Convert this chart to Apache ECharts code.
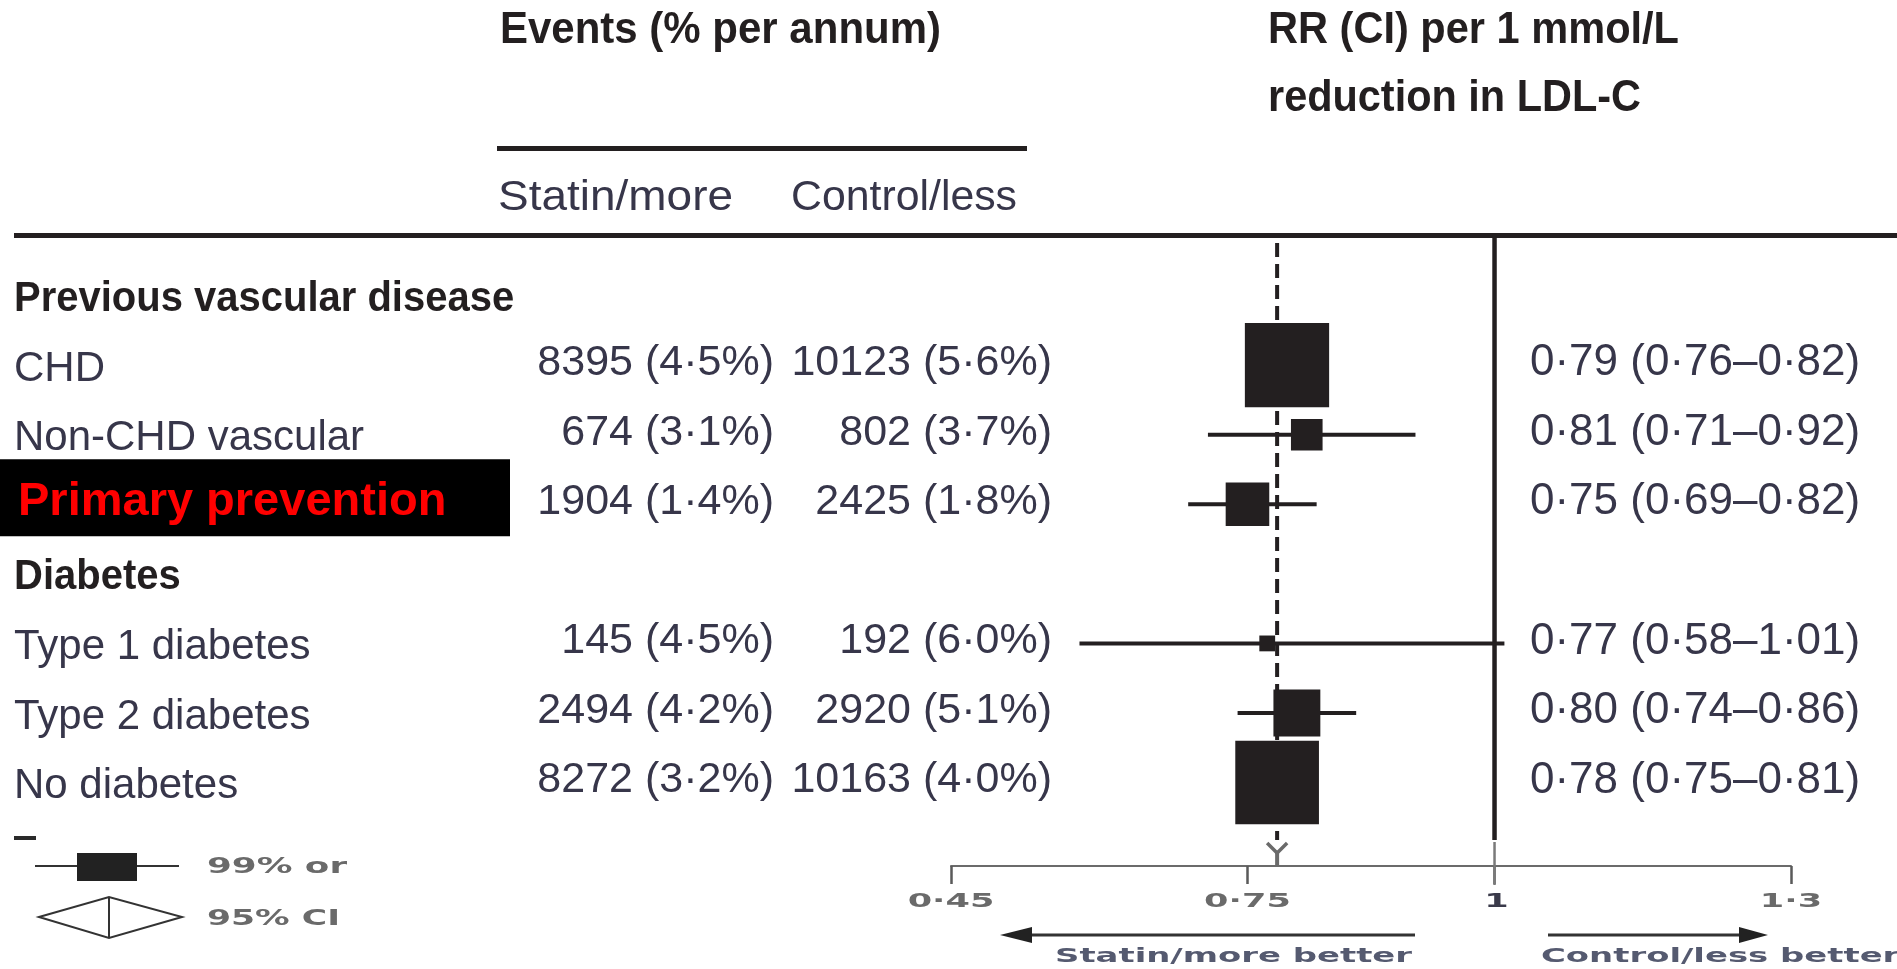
<!DOCTYPE html>
<html><head><meta charset="utf-8">
<script src="https://cdn.jsdelivr.net/npm/echarts@6/dist/echarts.min.js"></script>
<style>html,body{margin:0;padding:0;background:#fff;}#chart{width:1897px;height:969px;}</style>
</head><body><div id="chart"></div>
<script>
// ---------------- DATA ----------------
const rowLabels = ['Previous vascular disease', 'CHD', 'Non-CHD vascular', 'Primary prevention',
                   'Diabetes', 'Type 1 diabetes', 'Type 2 diabetes', 'No diabetes'];
const headingRows = [0, 4];
const highlightRow = 3;
const dataRows = [1, 2, 3, 5, 6, 7];
const statinEvents = [8395, 674, 1904, 145, 2494, 8272];
const statinPct = [4.5, 3.1, 1.4, 4.5, 4.2, 3.2];
const controlEvents = [10123, 802, 2425, 192, 2920, 10163];
const controlPct = [5.6, 3.7, 1.8, 6.0, 5.1, 4.0];
const rrEst = [0.79, 0.81, 0.75, 0.77, 0.80, 0.78];
const rrLow = [0.76, 0.71, 0.69, 0.58, 0.74, 0.75];
const rrHigh = [0.82, 0.92, 0.82, 1.01, 0.86, 0.81];
const boxWeight = [71, 10, 19, 2.5, 22, 70];   // relative statistical weight (box area)
const overallRR = 0.78;
const nullRR = 1;
const axisTicks = [0.45, 0.75, 1, 1.3];
const axisTickLabels = ['0·45', '0·75', '1', '1·3'];

// ---------------- STYLE ----------------
const SANS = "'Liberation Sans', Arial, sans-serif";
const WIDE = "'DejaVu Sans', sans-serif";
const INK = '#231f20';
const BODY = '#37364a';
const TXT_DY = 3;

const mctx = document.createElement('canvas').getContext('2d');
function textWidth(text, size, weight, family) {
  mctx.font = weight + ' ' + size + 'px ' + family;
  return mctx.measureText(text).width;
}
function fitText(text, x, y, size, weight, family, targetW, fill, scale) {
  const s = scale || targetW / textWidth(text, size, weight, family);
  return { type: 'text', x: x, y: y, scaleX: s, silent: true, z: 10,
    style: { text: text, fontSize: size, fontWeight: weight, fontFamily: family, fill: fill,
             align: 'left', verticalAlign: 'middle' } };
}
const fmt1 = v => v.toFixed(1).replace('.', '·');
const fmt2 = v => v.toFixed(2).replace('.', '·');

const arrowScale = 357 / textWidth('Statin/more better', 20, 'bold', WIDE);

const graphics = [
  fitText('Events (% per annum)', 500, 31, 44, 'bold', SANS, 441, INK),
  fitText('RR (CI) per 1 mmol/L', 1268, 31, 44, 'bold', SANS, 411, INK),
  fitText('reduction in LDL-C', 1268, 99, 44, 'bold', SANS, 373, INK),
  { type: 'rect', shape: { x: 497, y: 146, width: 530, height: 5 }, style: { fill: INK }, silent: true },
  fitText('Statin/more', 498, 198, 43, 'normal', SANS, 235, BODY),
  fitText('Control/less', 791, 198, 43, 'normal', SANS, 226, BODY),
  { type: 'rect', shape: { x: 14, y: 233, width: 1883, height: 5 }, style: { fill: INK }, silent: true },
  // cut-off glyph fragment above legend
  { type: 'rect', shape: { x: 14, y: 836, width: 22, height: 4 }, style: { fill: '#2a2a2a' }, silent: true },
  // legend
  { type: 'line', shape: { x1: 35, y1: 866, x2: 179, y2: 866 }, style: { stroke: '#333', lineWidth: 2 }, silent: true },
  { type: 'rect', shape: { x: 77, y: 853, width: 60, height: 28 }, style: { fill: '#222' }, silent: true },
  fitText('99% or', 207, 867, 22, 'bold', WIDE, 140, '#6a6a6a'),
  { type: 'polygon', shape: { points: [[39, 917], [109, 897], [182, 917], [109, 938]] },
    style: { stroke: '#333', lineWidth: 2, fill: '#fff' }, silent: true },
  { type: 'line', shape: { x1: 109, y1: 897, x2: 109, y2: 938 }, style: { stroke: '#333', lineWidth: 2 }, silent: true },
  fitText('95% CI', 207, 919, 22, 'bold', WIDE, 133, '#6a6a6a'),
  // direction arrows
  { type: 'line', shape: { x1: 1020, y1: 935, x2: 1415, y2: 935 }, style: { stroke: '#333', lineWidth: 3 }, silent: true },
  { type: 'polygon', shape: { points: [[1000, 935], [1032, 927], [1032, 943]] }, style: { fill: '#222' }, silent: true },
  { type: 'line', shape: { x1: 1548, y1: 935, x2: 1748, y2: 935 }, style: { stroke: '#333', lineWidth: 3 }, silent: true },
  { type: 'polygon', shape: { points: [[1768, 935], [1739, 927], [1739, 943]] }, style: { fill: '#222' }, silent: true },
  fitText('Statin/more better', 1055, 957, 20, 'bold', WIDE, 0, '#555a70', arrowScale),
  fitText('Control/less better', 1541, 957, 20, 'bold', WIDE, 0, '#555a70', arrowScale)
];

function rowY(api, row) { return api.coord([0.45, row])[1]; }

const option = {
  animation: false,
  backgroundColor: '#fff',
  grid: { left: 951, right: 106, top: 240, bottom: 103, containLabel: false },
  xAxis: {
    type: 'value', min: 0.45, max: 1.3, position: 'bottom',
    axisLine: { show: true, onZero: false, lineStyle: { color: '#6b6b6b', width: 2 } },
    axisTick: { show: true, customValues: axisTicks, length: 18, lineStyle: { color: '#5a5a5a', width: 2.5 } },
    axisLabel: { show: false },
    splitLine: { show: false }
  },
  yAxis: { type: 'value', inverse: true, min: -0.8, max: 8.2, show: false },
  graphic: graphics,
  series: [
    { // line of no effect
      type: 'custom', z: 2, silent: true, encode: { x: 0 },
      data: [[nullRR]],
      renderItem: function (params, api) {
        const cs = params.coordSys;
        const x = api.coord([api.value(0), 0])[0];
        const bottom = cs.y + cs.height;
        return { type: 'group', children: [
          { type: 'line', shape: { x1: x, y1: cs.y - 3, x2: x, y2: bottom - 26 }, style: { stroke: INK, lineWidth: 4.5 } },
          { type: 'line', shape: { x1: x, y1: bottom - 24, x2: x, y2: bottom + 19 }, style: { stroke: '#7a7a7a', lineWidth: 2.5 } }
        ]};
      }
    },
    { // overall effect (dashed)
      type: 'custom', z: 2, silent: true, encode: { x: 0 },
      data: [[overallRR]],
      renderItem: function (params, api) {
        const cs = params.coordSys;
        const x = api.coord([api.value(0), 0])[0];
        const bottom = cs.y + cs.height;
        return { type: 'group', children: [
          { type: 'line', shape: { x1: x, y1: cs.y + 3, x2: x, y2: bottom - 26 },
            style: { stroke: INK, lineWidth: 4, lineDash: [14, 7] } },
          { type: 'polyline', shape: { points: [[x - 10, bottom - 23], [x, bottom - 13], [x + 10, bottom - 23]] },
            style: { stroke: '#6a6a6a', lineWidth: 3.5, fill: null } },
          { type: 'line', shape: { x1: x, y1: bottom - 13, x2: x, y2: bottom }, style: { stroke: '#6a6a6a', lineWidth: 4 } }
        ]};
      }
    },
    { // forest markers
      type: 'custom', z: 3, silent: true, encode: { x: 0, y: 1 },
      data: dataRows.map((r, i) => [rrEst[i], r, rrLow[i], rrHigh[i], boxWeight[i]]),
      renderItem: function (params, api) {
        const c = api.coord([api.value(0), api.value(1)]);
        const lo = api.coord([api.value(2), api.value(1)]);
        const hi = api.coord([api.value(3), api.value(1)]);
        const side = Math.sqrt(api.value(4)) * 10;
        return { type: 'group', children: [
          { type: 'line', shape: { x1: lo[0], y1: c[1], x2: hi[0], y2: c[1] }, style: { stroke: INK, lineWidth: 4 } },
          { type: 'rect', shape: { x: c[0] - side / 2, y: c[1] - side / 2, width: side, height: side }, style: { fill: INK } }
        ]};
      }
    },
    { // row labels
      type: 'custom', z: 4, silent: true, encode: { y: 0 },
      data: rowLabels.map((t, i) => [i]),
      renderItem: function (params, api) {
        const i = params.dataIndex;
        const y = rowY(api, api.value(0)) + TXT_DY;
        const text = rowLabels[i];
        if (i === highlightRow) {
          return { type: 'group', children: [
            { type: 'rect', shape: { x: 0, y: y - 48, width: 510, height: 77 }, style: { fill: '#000' } },
            { type: 'text', x: 18, y: y - 5, style: { text: text, fontSize: 47, fontWeight: 'bold', fontFamily: SANS,
              fill: '#ff0000', align: 'left', verticalAlign: 'middle' } }
          ]};
        }
        if (headingRows.indexOf(i) >= 0) {
          return { type: 'text', x: 14, y: y, scaleX: 0.93, style: { text: text, fontSize: 43, fontWeight: 'bold',
            fontFamily: SANS, fill: INK, align: 'left', verticalAlign: 'middle' } };
        }
        return { type: 'text', x: 14, y: y + 1, style: { text: text, fontSize: 42, fontFamily: SANS,
          fill: BODY, align: 'left', verticalAlign: 'middle' } };
      }
    },
    { // events columns
      type: 'custom', z: 4, silent: true, encode: { y: 0 },
      data: dataRows.map((r, i) => [r, statinEvents[i], statinPct[i], controlEvents[i], controlPct[i]]),
      renderItem: function (params, api) {
        const y = rowY(api, api.value(0)) - 5 + TXT_DY;
        const s = api.value(1) + ' (' + fmt1(api.value(2)) + '%)';
        const c = api.value(3) + ' (' + fmt1(api.value(4)) + '%)';
        return { type: 'group', children: [
          { type: 'text', x: 774, y: y, style: { text: s, fontSize: 43, fontFamily: SANS, fill: BODY, align: 'right', verticalAlign: 'middle' } },
          { type: 'text', x: 1052, y: y, style: { text: c, fontSize: 43, fontFamily: SANS, fill: BODY, align: 'right', verticalAlign: 'middle' } }
        ]};
      }
    },
    { // RR (CI) column
      type: 'custom', z: 4, silent: true, encode: { y: 0 },
      data: dataRows.map((r, i) => [r, rrEst[i], rrLow[i], rrHigh[i]]),
      renderItem: function (params, api) {
        const y = rowY(api, api.value(0)) - 5 + TXT_DY;
        const t = fmt2(api.value(1)) + ' (' + fmt2(api.value(2)) + '–' + fmt2(api.value(3)) + ')';
        return { type: 'text', x: 1530, y: y, style: { text: t, fontSize: 44, fontFamily: SANS, fill: BODY,
          align: 'left', verticalAlign: 'middle' } };
      }
    },
    { // axis tick labels
      type: 'custom', z: 4, silent: true, encode: { x: 0 },
      data: axisTicks.map(v => [v]),
      renderItem: function (params, api) {
        const cs = params.coordSys;
        const v = api.value(0);
        const x = api.coord([v, 0])[0];
        return { type: 'text', x: x + (v === nullRR ? 2 : 0), y: cs.y + cs.height + 36, scaleX: 1.85,
          style: { text: axisTickLabels[params.dataIndex], fontSize: 19, fontFamily: WIDE,
            fontWeight: 'bold', fill: v === nullRR ? '#3a3a4a' : '#6a6a6a',
            align: 'center', verticalAlign: 'middle' } };
      }
    }
  ]
};
const chart = echarts.init(document.getElementById('chart'), null, { renderer: 'canvas', width: 1897, height: 969 });
chart.setOption(option);
</script>
</body></html>
